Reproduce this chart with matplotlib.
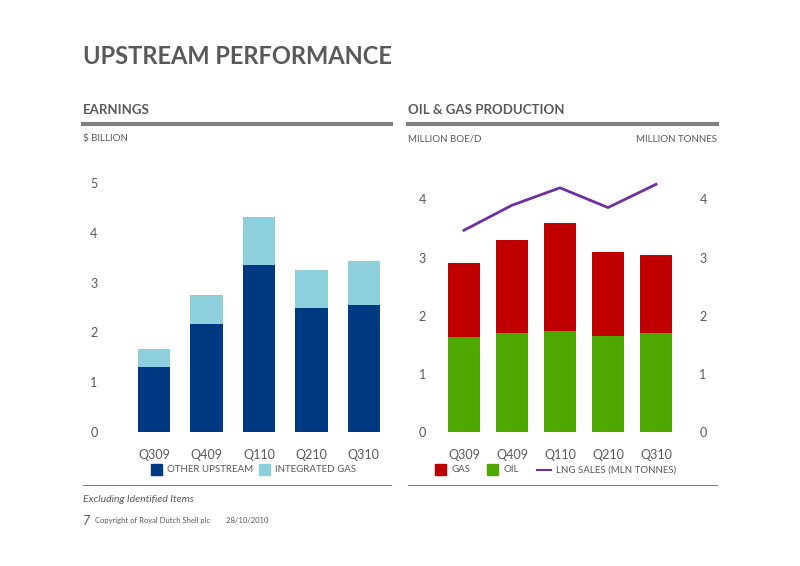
import matplotlib.pyplot as plt
from matplotlib.patches import Rectangle
from matplotlib.lines import Line2D

quarters = ["Q309", "Q409", "Q110", "Q210", "Q310"]
other_upstream = [1.31, 2.17, 3.35, 2.49, 2.55]
integrated_gas = [0.36, 0.58, 0.97, 0.76, 0.88]
oil = [1.63, 1.70, 1.73, 1.65, 1.70]
gas = [1.27, 1.61, 1.86, 1.44, 1.34]
lng_sales = [3.47, 3.90, 4.20, 3.86, 4.26]

GREY = "#595959"
fig = plt.figure(figsize=(8, 5.66), dpi=100)
plt.rcParams["font.family"] = ["Lato", "DejaVu Sans"]

fig.text(83 / 800, 1 - 57 / 566, "UPSTREAM PERFORMANCE", fontsize=17, fontweight="bold", color=GREY, va="center")
fig.text(83 / 800, 1 - 110 / 566, "EARNINGS", fontsize=9.5, fontweight="bold", color=GREY, va="center")
fig.text(408 / 800, 1 - 110 / 566, "OIL & GAS PRODUCTION", fontsize=9.5, fontweight="bold", color=GREY, va="center")
for x0, x1 in [(83, 391), (408, 717)]:
    fig.add_artist(Line2D([x0 / 800, x1 / 800], [1 - 124 / 566] * 2, color="#808080", lw=3))
    fig.add_artist(Line2D([x0 / 800, x1 / 800], [1 - 485 / 566] * 2, color="#808080", lw=0.8))
fig.text(83 / 800, 1 - 139 / 566, "$ BILLION", fontsize=7, color=GREY, va="center")
fig.text(408 / 800, 1 - 139 / 566, "MILLION BOE/D", fontsize=7, color=GREY, va="center")
fig.text(717 / 800, 1 - 139 / 566, "MILLION TONNES", fontsize=7, color=GREY, va="center", ha="right")
fig.text(83 / 800, 1 - 500 / 566, "Excluding Identified Items", fontsize=7.5, style="italic", color=GREY, va="center")
fig.text(83 / 800, 1 - 521 / 566, "7", fontsize=9, style="italic", color=GREY, va="center")
fig.text(95 / 800, 1 - 521 / 566, "Copyright of Royal Dutch Shell plc        28/10/2010", fontsize=5.5, color=GREY, va="center")

x = range(len(quarters))

def style(ax):
    for s in ax.spines.values():
        s.set_visible(False)
    ax.tick_params(length=0, colors=GREY, labelsize=9)
    ax.set_xticks(list(x))
    ax.set_xticklabels(quarters)

ax1 = fig.add_axes([128 / 800, 1 - 432 / 566, 262 / 800, 249 / 566])
ax1.bar(x, other_upstream, width=0.62, color="#003882")
ax1.bar(x, integrated_gas, bottom=other_upstream, width=0.62, color="#8ecfdc")
ax1.set_ylim(0, 5)
ax1.set_xlim(-0.5, 4.5)
ax1.set_yticks(range(6))
style(ax1)
ax1.tick_params(axis="y", pad=22)
ax1.tick_params(axis="x", pad=12)

ax2 = fig.add_axes([440 / 800, 1 - 432 / 566, 240 / 800, 250 / 566])
ax2.bar(x, oil, width=0.66, color="#4ea800")
ax2.bar(x, gas, bottom=oil, width=0.66, color="#c00000")
ax2.set_ylim(0, 4.3)
ax2.set_xlim(-0.5, 4.5)
ax2.set_yticks(range(5))
style(ax2)
ax2.tick_params(axis="y", pad=10)
ax2.tick_params(axis="x", pad=12)
ax3 = ax2.twinx()
ax3.plot(x, lng_sales, color="#7030a0", lw=2)
ax3.set_ylim(0, 4.3)
ax3.set_yticks(range(5))
for s in ax3.spines.values():
    s.set_visible(False)
ax3.tick_params(length=0, colors=GREY, labelsize=9, pad=14)

ly = 1 - 470 / 566
def legend_box(px, color, label):
    fig.add_artist(Rectangle((px / 800, ly - 0.009), 11 / 800, 11 / 566, color=color))
    fig.text((px + 16) / 800, ly, label, fontsize=7, color=GREY, va="center")

legend_box(151, "#003882", "OTHER UPSTREAM")
legend_box(259, "#8ecfdc", "INTEGRATED GAS")
legend_box(435, "#c00000", "GAS")
legend_box(487, "#4ea800", "OIL")
fig.add_artist(Line2D([537 / 800, 551 / 800], [ly, ly], color="#7030a0", lw=1.5))
fig.text(556 / 800, ly, "LNG SALES (MLN TONNES)", fontsize=7, color=GREY, va="center")

fig.savefig("out.png", dpi=100)
